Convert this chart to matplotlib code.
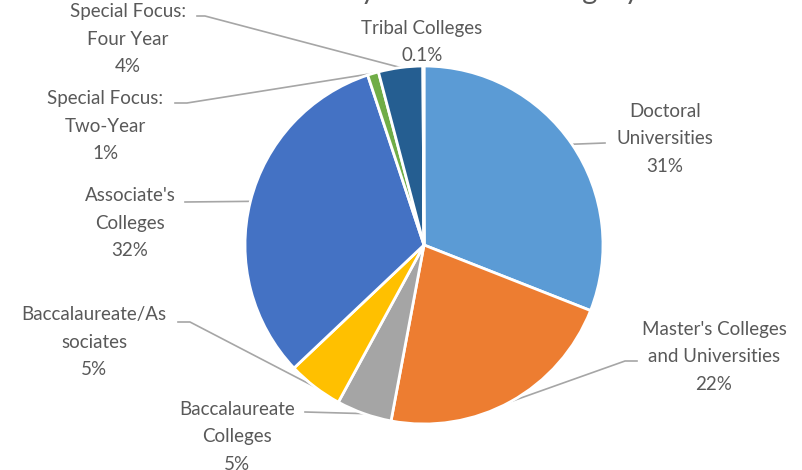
import numpy as np
import matplotlib
matplotlib.use("Agg")
import matplotlib.pyplot as plt

plt.rcParams['font.family'] = ['Lato', 'DejaVu Sans']

# data
categories = ["Doctoral\nUniversities", "Master's Colleges\nand Universities",
              "Baccalaureate\nColleges", "Baccalaureate/As\nsociates",
              "Associate's\nColleges", "Special Focus:\nTwo-Year",
              "Special Focus:\nFour Year", "Tribal Colleges"]
shares = [31, 22, 5, 5, 32, 1, 4, 0.1]
pct_labels = ["31%", "22%", "5%", "5%", "32%", "1%", "4%", "0.1%"]
colors = ['#5B9BD5', '#ED7D31', '#A5A5A5', '#FFC000', '#4472C4', '#70AD47', '#255E91', '#9E480E']

W, H = 802, 470
R = 179.0          # pie radius in px
CX, CY = 424, 245  # pie centre in px (from top-left)

def px(x, y):
    # pixel (from top-left) -> data coords, pie radius = 1
    return (x - CX) / R, (CY - y) / R

fig = plt.figure(figsize=(W / 100, H / 100), dpi=100)
ax = fig.add_axes([0, 0, 1, 1])

wedges, _ = ax.pie(shares, colors=colors, startangle=90, counterclock=False, radius=1,
                   wedgeprops=dict(edgecolor='white', linewidth=2))

# pie() resets the limits, so set them afterwards
ax.set_xlim(-CX / R, (W - CX) / R)
ax.set_ylim(-(H - CY) / R, CY / R)
ax.set_aspect('equal')
ax.axis('off')

# label centres (px) and leader elbow (px) ; None = no leader
label_pos = [(665, 139), (714, 357), (237, 437), (94, 342),
             (130, 223), (105, 126), (128, 39), (422, 42)]
elbows = [[(605, 143)], [(637, 361), (625, 361)], [(305, 412)], [(178, 322), (190, 322)],
          [(185, 202)], [(175, 103), (187, 103)], [(197, 16), (205, 16)], None]

txt_color = '#595959'
line_color = '#A6A6A6'
total = sum(shares)
cum = 0
for i, w in enumerate(wedges):
    mid = 90 - 360 * (cum + shares[i] / 2) / total
    cum += shares[i]
    x, y = px(*label_pos[i])
    ax.text(x, y, categories[i] + "\n" + pct_labels[i], ha='center', va='center',
            fontsize=13.5, color=txt_color, linespacing=1.78)
    if elbows[i] is not None:
        ax0 = np.cos(np.radians(mid))
        ay0 = np.sin(np.radians(mid))
        pts = [px(*p) for p in elbows[i]] + [(ax0, ay0)]
        ax.plot([p[0] for p in pts], [p[1] for p in pts], color=line_color, lw=1.2, zorder=0.5)

# title, mostly cut off by the top edge (only descenders show)
tx, ty = px(640, -1)
ax.text(tx, ty, "Enrollment by Institution Category", ha='right', va='baseline',
        fontsize=21, color=txt_color, clip_on=False)

fig.savefig("out.png", dpi=100)
